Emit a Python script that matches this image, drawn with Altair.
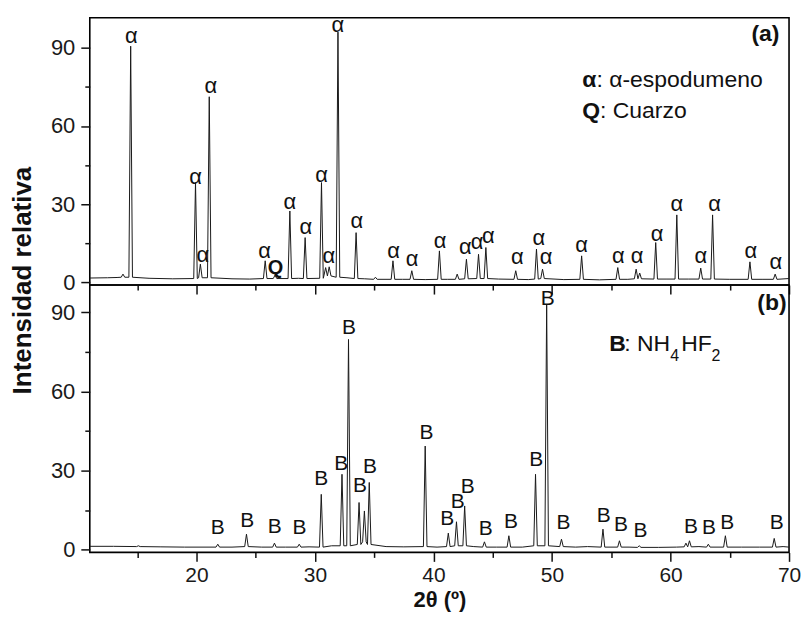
import altair as alt
import pandas as pd

# ---------------- data ----------------
# Pattern (a): peaks (2theta, relative intensity, local background)
a_peak_x = [13.8, 14.45, 19.92, 20.33, 21.08, 25.8, 26.63, 27.88, 29.17, 30.55, 30.9, 31.2,
            31.94, 33.47, 35.1, 36.58, 38.17, 40.5, 42.0, 42.78, 43.8, 44.42, 46.94, 48.69,
            49.2, 52.5, 55.55, 57.1, 57.4, 58.75, 60.53, 62.55, 63.55, 66.7, 68.83]
a_peak_y = [3.2, 90.6, 38.3, 7.0, 71.2, 8.3, 2.8, 27.4, 17.2, 38.3, 5.7, 6.0,
            96.0, 19.1, 2.0, 8.3, 4.5, 12.1, 3.2, 8.9, 10.8, 13.4, 4.5, 12.8,
            5.1, 10.2, 5.7, 5.1, 3.6, 15.3, 25.9, 5.5, 25.9, 7.9, 3.2]
a_peak_base = [2.0, 2.0, 1.5, 1.8, 1.8, 1.5, 1.5, 1.5, 1.5, 1.6, 2.5, 2.5,
               2.0, 1.5, 1.2, 1.2, 1.2, 1.2, 1.2, 1.4, 1.5, 1.5, 1.2, 1.3,
               1.5, 1.2, 1.2, 1.4, 1.4, 1.3, 1.3, 1.3, 1.3, 1.2, 1.2]
a_base_x = [11, 12.5, 13.3, 16, 18, 23, 24.5, 28.6, 32.7, 34.2, 37.4, 39.3, 41.2,
            45.5, 48, 51, 54, 56.4, 59.7, 61.5, 65, 67.8, 70]
a_base_y = [1.7, 1.8, 1.9, 1.6, 1.4, 1.4, 1.3, 1.6, 1.8, 1.4, 1.2, 1.1, 1.2,
            1.3, 1.1, 1.1, 1.0, 1.2, 1.3, 1.3, 1.2, 1.2, 1.5]

# Pattern (b)
b_peak_x = [15.1, 21.8, 24.22, 26.58, 28.67, 30.53, 32.28, 32.83, 33.72, 34.17, 34.58,
            39.3, 41.25, 41.94, 42.63, 44.3, 46.36, 48.61, 49.55, 50.8, 54.3, 55.69,
            57.36, 61.3, 61.6, 63.19, 64.63, 68.75]
b_peak_y = [1.5, 2.1, 5.9, 2.5, 2.1, 21.0, 28.6, 79.7, 17.9, 14.7, 25.5,
            39.3, 6.3, 10.6, 16.6, 3.0, 5.3, 28.6, 93.0, 4.0, 7.8, 3.4,
            1.5, 2.5, 3.4, 2.1, 5.3, 4.3]
b_peak_base = [1.2, 1.0, 1.2, 1.0, 1.0, 1.0, 1.5, 1.5, 2.0, 3.0, 2.0,
               1.2, 1.2, 1.5, 1.5, 1.0, 1.0, 1.5, 1.5, 1.2, 1.0, 1.0,
               0.9, 1.1, 1.1, 1.0, 1.0, 1.0]
b_base_x = [11, 13, 17, 19, 23, 25.5, 27.5, 29.5, 31.4, 36, 37.5, 40.3, 43.4, 45.3,
            47.5, 52, 53, 56.5, 59, 60.5, 62.4, 66, 67.5, 69.5, 70]
b_base_y = [1.3, 1.3, 1.1, 1.0, 1.0, 1.0, 1.0, 1.1, 1.5, 1.2, 1.1, 1.0, 1.2, 1.0,
            1.0, 1.0, 1.2, 1.0, 0.9, 1.0, 1.2, 1.0, 1.0, 1.2, 1.0]

# Peak labels
a_lab_x = [14.5, 19.92, 20.53, 21.22, 25.75, 27.88, 29.22, 30.55, 31.17, 31.94, 33.53,
           36.63, 38.19, 40.55, 42.69, 43.67, 44.63, 47.08, 48.88, 49.5, 52.5, 55.6,
           57.19, 58.86, 60.53, 62.55, 63.72, 66.78, 68.88]
a_lab_y = [94.5, 40.6, 10.6, 75.3, 12.1, 30.9, 21.1, 41.1, 10.2, 98.6, 23.6,
           12.1, 8.9, 16.0, 13.4, 15.6, 17.9, 9.6, 17.2, 9.6, 14.3, 10.0,
           10.0, 18.5, 30.0, 10.0, 30.0, 12.1, 7.9]
q_lab_x = [26.67]
q_lab_y = [5.7]

b_lab_x = [21.8, 24.28, 26.6, 28.7, 30.53, 32.22, 32.88, 33.8, 34.64, 39.4, 41.17, 42.05,
           42.9, 44.4, 46.53, 48.67, 49.63, 50.97, 54.36, 55.83, 57.47, 61.72, 63.25,
           64.78, 68.96]
b_lab_y = [8.4, 11.0, 8.7, 8.4, 26.7, 32.6, 84.1, 24.2, 31.5, 44.1, 11.6, 17.9,
           23.9, 7.8, 10.6, 34.0, 95.0, 10.3, 12.9, 9.3, 7.2, 8.7, 8.1,
           10.3, 10.0]

x_ticks = [15, 20, 25, 30, 35, 40, 45, 50, 55, 60, 65, 70]
y_ticks = [0, 15, 30, 45, 60, 75, 90]

HALF_W = 0.15  # drawn half-width of a peak foot


def trace(px, py, pb, bx, by):
    pts = []
    for x, y in zip(bx, by):
        if all(abs(x - p) > HALF_W for p in px):
            pts.append((x, y))
    for x, h, b in zip(px, py, pb):
        pts += [(x - HALF_W, b), (x, h), (x + HALF_W, b)]
    pts.sort(key=lambda t: t[0])
    return pd.DataFrame(pts, columns=["x", "y"])


FONT = "Liberation Sans"
XDOM = [11, 70]
YDOM_A = [-1.0, 101.5]
YDOM_B = [-1.0, 100.3]
W, H = 701, 268

xs = alt.Scale(domain=XDOM, nice=False, zero=False)

tick_x = {"condition": {"test": "datum.value % 10 === 0", "value": 9}, "value": 5}
tick_y = {"condition": {"test": "datum.value % 30 === 0", "value": 9}, "value": 5}


def panel(df_line, ydom, lab_x, lab_y, lab_text, lab_size, extra, top):
    ys = alt.Scale(domain=ydom, nice=False, zero=False)
    if top:
        xaxis = alt.Axis(values=x_ticks, labels=False, title=None, tickSize=tick_x)
        yaxis = alt.Axis(values=y_ticks, tickSize=tick_y,
                         labelExpr="datum.value % 30 === 0 ? datum.label : ''",
                         title="Intensidad relativa", titleX=-67, titleY=263,
                         titleAngle=270, titleAlign="center", titleBaseline="middle",
                         titleFontSize=26, titleFontWeight="bold")
    else:
        xaxis = alt.Axis(values=x_ticks, tickSize=tick_x, title="2θ (º)",
                         labelExpr="datum.value % 10 === 0 ? datum.label : ''",
                         labelPadding=3, titlePadding=4, labelFontSize=21,
                         titleFontSize=22, titleFontWeight="bold")
        yaxis = alt.Axis(values=y_ticks, tickSize=tick_y,
                         labelExpr="datum.value % 30 === 0 ? datum.label : ''",
                         title=None)
    enc_x = alt.X("x:Q", scale=xs, axis=xaxis)
    enc_y = alt.Y("y:Q", scale=ys, axis=yaxis)
    line = alt.Chart(df_line).mark_line(color="#1a1a1a", strokeWidth=1).encode(x=enc_x, y=enc_y)
    labs = alt.Chart(pd.DataFrame({"x": lab_x, "y": lab_y, "t": lab_text})).mark_text(
        font=FONT, fontSize=lab_size, align="center", baseline="middle", color="#111"
    ).encode(x=enc_x, y=enc_y, text="t:N")
    layers = [line, labs]
    for spec in extra:
        d = pd.DataFrame({"x": spec["x"], "y": spec["y"], "t": spec["t"]})
        layers.append(alt.Chart(d).mark_text(
            font=FONT, fontSize=spec["size"], fontWeight=spec["weight"], align=spec["align"],
            baseline="middle", color="#111"
        ).encode(x=enc_x, y=enc_y, text="t:N"))
    return alt.layer(*layers).properties(width=W, height=H)


# annotation texts
top_extra = [
    {"x": q_lab_x, "y": q_lab_y, "t": ["Q"], "size": 20, "weight": "bold", "align": "center"},
    {"x": [52.55, 52.55], "y": [77.6, 65.8], "t": ["α", "Q"], "size": 23, "weight": "bold", "align": "left"},
    {"x": [53.75, 54.05], "y": [77.6, 65.8], "t": [": α-espodumeno", ": Cuarzo"], "size": 23, "weight": "normal", "align": "left"},
    {"x": [69.19], "y": [95.1], "t": ["(a)"], "size": 23, "weight": "bold", "align": "right"},
]
bot_extra = [
    {"x": [54.82], "y": [77.8], "t": ["B"], "size": 23, "weight": "bold", "align": "left"},
    {"x": [56.1, 60.9], "y": [77.8, 77.8], "t": [": NH", "HF"], "size": 23, "weight": "normal", "align": "left"},
    {"x": [59.98, 63.46], "y": [73.3, 73.3], "t": ["4", "2"], "size": 16, "weight": "normal", "align": "left"},
    {"x": [69.8], "y": [93.5], "t": ["(b)"], "size": 23, "weight": "bold", "align": "right"},
]

top = panel(trace(a_peak_x, a_peak_y, a_peak_base, a_base_x, a_base_y), YDOM_A,
            a_lab_x, a_lab_y, ["α"] * len(a_lab_x), 22, top_extra, True)
bottom = panel(trace(b_peak_x, b_peak_y, b_peak_base, b_base_x, b_base_y), YDOM_B,
               b_lab_x, b_lab_y, ["B"] * len(b_lab_x), 21, bot_extra, False)

chart = alt.vconcat(top, bottom, spacing=0, bounds="flush").properties(
    padding={"left": 1, "top": 4, "right": 0, "bottom": 0},
).configure_view(stroke="black", strokeWidth=1.6).configure_axis(
    labelFont=FONT, labelFontSize=22, labelColor="#1a1a1a", titleFont=FONT,
    titleColor="#111", tickColor="#111", tickWidth=1.5, domain=False, grid=False,
    labelOverlap=False, labelFlush=False, labelPadding=6,
)

chart.save("out.html", embed_options={"renderer": "svg", "actions": False})
